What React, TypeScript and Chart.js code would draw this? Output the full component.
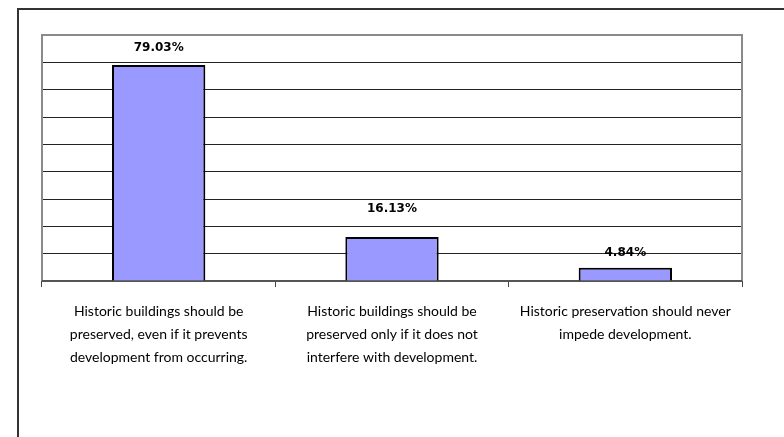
import React, { useEffect, useRef } from "react";
import { Chart, registerables } from "chart.js";

Chart.register(...registerables);

const categories: string[][] = [
  ["Historic buildings should be", "preserved, even if it prevents", "development from occurring."],
  ["Historic buildings should be", "preserved only if it does not", "interfere with development."],
  ["Historic preservation should never", "impede development."],
];
const values: number[] = [79.03, 16.13, 4.84];
const valueLabels: string[] = ["79.03%", "16.13%", "4.84%"];
const yMin = 0;
const yMax = 90;
const yStep = 10;

const framePlugin = {
  id: "frame",
  beforeDatasetsDraw(chart: any) {
    const { ctx, chartArea } = chart;
    const { left, top, right, bottom } = chartArea;
    ctx.save();
    ctx.strokeStyle = "#8a8a8a";
    ctx.lineWidth = 2;
    ctx.beginPath();
    ctx.moveTo(left, bottom);
    ctx.lineTo(left, top);
    ctx.lineTo(right, top);
    ctx.lineTo(right, bottom);
    ctx.stroke();
    ctx.strokeStyle = "#555";
    ctx.beginPath();
    ctx.moveTo(left, bottom);
    ctx.lineTo(right, bottom);
    ctx.stroke();
    ctx.restore();
  },
};

const labelOffsets = [17, 28, 15];

const valueLabelPlugin = {
  id: "valueLabels",
  afterDatasetsDraw(chart: any) {
    const { ctx } = chart;
    const meta = chart.getDatasetMeta(0);
    ctx.save();
    ctx.font = "bold 12px 'DejaVu Sans'";
    ctx.fillStyle = "#000";
    ctx.textAlign = "center";
    ctx.textBaseline = "middle";
    meta.data.forEach((bar: any, i: number) => {
      ctx.fillText(valueLabels[i], bar.x, bar.y - labelOffsets[i]);
    });
    ctx.restore();
  },
};

export default function App() {
  const canvasRef = useRef<HTMLCanvasElement | null>(null);

  useEffect(() => {
    document.body.style.margin = "0";
    const canvas = canvasRef.current;
    if (!canvas) return;
    const chart = new Chart(canvas, {
      type: "bar",
      data: {
        labels: categories,
        datasets: [
          {
            data: values,
            backgroundColor: "#9999ff",
            borderColor: "#000",
            borderWidth: 2,
            barPercentage: 0.4,
            categoryPercentage: 1,
          },
        ],
      },
      options: {
        responsive: false,
        animation: false,
        maintainAspectRatio: false,
        layout: { padding: { left: 42, top: 35, right: 42, bottom: 46 } },
        plugins: {
          legend: { display: false },
          tooltip: { enabled: false },
          title: { display: false },
        },
        scales: {
          x: {
            grid: {
              display: true,
              drawOnChartArea: false,
              drawTicks: true,
              tickLength: 6,
              color: "#444",
              offset: true,
            },
            border: { display: false },
            ticks: {
              color: "#000",
              font: { family: "Lato", size: 14, lineHeight: "23px" },
              padding: 13,
              maxRotation: 0,
              autoSkip: false,
            },
            afterFit: (s: any) => {
              s.height = 110;
            },
          },
          y: {
            min: yMin,
            max: yMax,
            ticks: { display: false, stepSize: yStep },
            grid: { color: "#222", lineWidth: 1, drawTicks: false },
            border: { display: false },
            afterFit: (s: any) => {
              s.width = 0;
            },
          },
        },
      },
      plugins: [framePlugin, valueLabelPlugin],
    });
    return () => chart.destroy();
  }, []);

  return (
    <div style={{ position: "relative", width: 784, height: 437, overflow: "hidden", background: "#fff" }}>
      <div
        style={{
          position: "absolute",
          left: 17,
          top: 8,
          width: 900,
          height: 600,
          border: "2px solid #333",
        }}
      />
      <canvas
        ref={canvasRef}
        width={784}
        height={437}
        style={{ position: "absolute", left: 0, top: 0, display: "block" }}
      />
    </div>
  );
}
